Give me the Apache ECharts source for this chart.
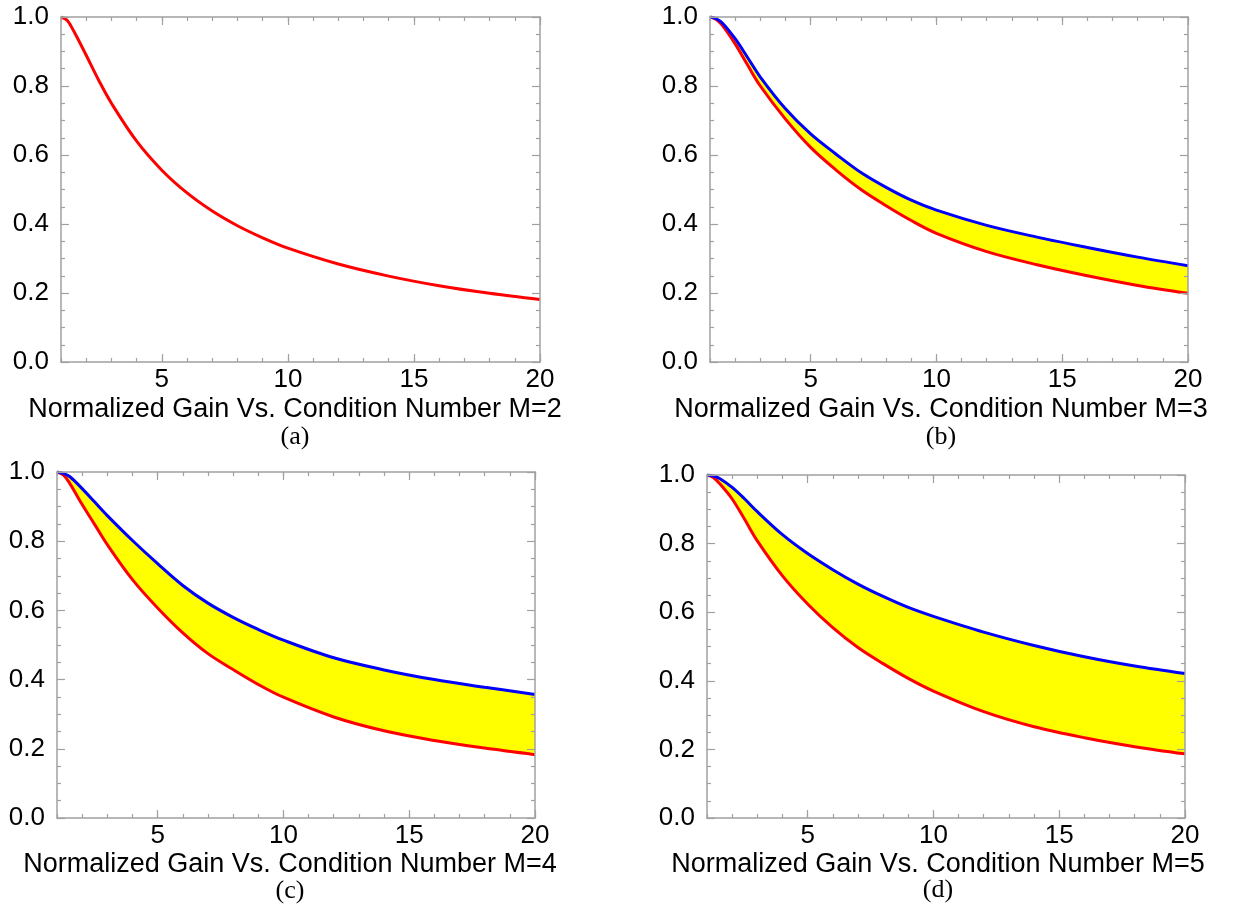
<!DOCTYPE html>
<html>
<head>
<meta charset="utf-8">
<script src="https://cdn.jsdelivr.net/npm/echarts@6/dist/echarts.min.js"></script>
<style>
  html, body { margin: 0; background: #fff; }
  #main { width: 1234px; height: 914px; }
</style>
</head>
<body>
<div id="main"></div>
<script>
// condition number samples
var xs = [1, 1.25, 1.5, 2, 2.5, 3, 4, 5, 6, 7, 8, 9, 10, 12, 14, 16, 18, 20];

var lowerA = [1.0, 0.99, 0.96, 0.889, 0.816, 0.75, 0.64, 0.556, 0.49, 0.4375, 0.395, 0.36, 0.33, 0.284, 0.249, 0.221, 0.199, 0.181];
var lowerB = [1.0, 0.993, 0.975, 0.922, 0.86, 0.80, 0.704, 0.622, 0.557, 0.50, 0.453, 0.41, 0.373, 0.32, 0.282, 0.25, 0.222, 0.199];
var upperB = [1.0, 0.995, 0.982, 0.937, 0.882, 0.826, 0.734, 0.661, 0.603, 0.549, 0.506, 0.469, 0.44, 0.396, 0.362, 0.332, 0.304, 0.279];
var lowerC = [1.0, 0.992, 0.968, 0.906, 0.848, 0.79, 0.689, 0.607, 0.535, 0.475, 0.429, 0.386, 0.349, 0.292, 0.252, 0.224, 0.202, 0.183];
var upperC = [1.0, 0.996, 0.987, 0.952, 0.913, 0.874, 0.802, 0.735, 0.672, 0.621, 0.58, 0.545, 0.514, 0.463, 0.428, 0.4, 0.378, 0.357];
var lowerD = [1.0, 0.993, 0.975, 0.93, 0.87, 0.808, 0.706, 0.624, 0.555, 0.497, 0.45, 0.407, 0.37, 0.31, 0.266, 0.234, 0.208, 0.187];
var upperD = [1.0, 0.997, 0.99, 0.964, 0.93, 0.893, 0.826, 0.771, 0.724, 0.682, 0.646, 0.614, 0.588, 0.542, 0.503, 0.47, 0.443, 0.421];

var xLabelValues = [5, 10, 15, 20];
var titles = [
  'Normalized Gain Vs. Condition Number M=2',
  'Normalized Gain Vs. Condition Number M=3',
  'Normalized Gain Vs. Condition Number M=4',
  'Normalized Gain Vs. Condition Number M=5'
];
var tags = ['(a)', '(b)', '(c)', '(d)'];

var panels = [
  { lower: lowerA, upper: null },
  { lower: lowerB, upper: upperB },
  { lower: lowerC, upper: upperC },
  { lower: lowerD, upper: upperD }
];

var grids = [
  { left: 61, top: 17, width: 479, height: 345 },
  { left: 710, top: 17, width: 478, height: 345 },
  { left: 57, top: 472, width: 478, height: 346 },
  { left: 707, top: 475, width: 478, height: 343 }
];
// centre of the caption text under each panel
var captionPos = [[295, 410, 437], [941, 410, 437], [290, 865, 891], [938, 865, 890]];

var font = '"Liberation Sans", Arial, sans-serif';
var frame = '#a0a0a0';

function pairs(vals) {
  return xs.map(function (x, i) { return [x, vals[i]]; });
}

var xAxes = [], yAxes = [], series = [], titleList = [];

grids.forEach(function (g, gi) {
  ['bottom', 'top'].forEach(function (pos) {
    // minor ticks every 1, with the frame line
    xAxes.push({
      gridIndex: gi, type: 'value', position: pos, min: 1, max: 20, interval: 1, z: 10,
      axisLine: { show: true, onZero: false, lineStyle: { color: frame, width: 1.5 } },
      axisTick: { show: true, inside: true, length: 4, lineStyle: { color: frame, width: 1.2 } },
      axisLabel: pos === 'bottom'
        ? { show: true, customValues: xLabelValues, margin: 5, color: '#000', fontSize: 26, fontFamily: font }
        : { show: false },
      splitLine: { show: false }
    });
    // major ticks at the labelled values
    xAxes.push({
      gridIndex: gi, type: 'value', position: pos, min: 1, max: 20, z: 10,
      axisLine: { show: false, onZero: false },
      axisTick: { show: true, inside: true, length: 8, customValues: xLabelValues, lineStyle: { color: frame, width: 1.2 } },
      axisLabel: { show: false },
      splitLine: { show: false }
    });
  });
  ['left', 'right'].forEach(function (pos) {
    yAxes.push({
      gridIndex: gi, type: 'value', position: pos, min: 0, max: 1, interval: 0.2, z: 10,
      axisLine: { show: true, onZero: false, lineStyle: { color: frame, width: 1.5 } },
      axisTick: { show: true, inside: true, length: 8, lineStyle: { color: frame, width: 1.2 } },
      minorTick: { show: true, splitNumber: 4, length: 4, lineStyle: { color: frame, width: 1.2 } },
      axisLabel: pos === 'left'
        ? { show: true, margin: 12, color: '#000', fontSize: 26, fontFamily: font,
            formatter: function (v) { return v.toFixed(1); } }
        : { show: false },
      splitLine: { show: false }
    });
  });

  var p = panels[gi];
  var xi = gi * 4, yi = gi * 2;
  var common = { type: 'line', xAxisIndex: xi, yAxisIndex: yi, showSymbol: false, smooth: 0.35, silent: true };
  if (p.upper) {
    // yellow band: fill under the upper curve, then white under the lower one
    series.push(Object.assign({}, common, {
      data: pairs(p.upper), lineStyle: { width: 0 }, areaStyle: { color: '#ffff00', opacity: 1 }
    }));
    series.push(Object.assign({}, common, {
      data: pairs(p.lower), lineStyle: { width: 0 }, areaStyle: { color: '#ffffff', opacity: 1 }
    }));
  }
  series.push(Object.assign({}, common, {
    data: pairs(p.lower), lineStyle: { color: '#ff0000', width: 3 }
  }));
  if (p.upper) {
    series.push(Object.assign({}, common, {
      data: pairs(p.upper), lineStyle: { color: '#0000ff', width: 3 }
    }));
  }

  var c = captionPos[gi];
  titleList.push({
    text: titles[gi], left: c[0], top: c[1] - 15, textAlign: 'center', padding: 0,
    textStyle: { fontSize: 27, fontWeight: 'normal', fontFamily: font, color: '#000', lineHeight: 30 }
  });
  titleList.push({
    text: tags[gi], left: c[0], top: c[2] - 15, textAlign: 'center', padding: 0,
    textStyle: { fontSize: 26, fontWeight: 'normal', fontFamily: '"Liberation Serif", "Times New Roman", serif',
                 color: '#000', lineHeight: 30 }
  });
});

var chart = echarts.init(document.getElementById('main'), null, { renderer: 'canvas' });
chart.setOption({
  backgroundColor: '#fff',
  animation: false,
  title: titleList,
  grid: grids,
  xAxis: xAxes,
  yAxis: yAxes,
  series: series
});
</script>
</body>
</html>
